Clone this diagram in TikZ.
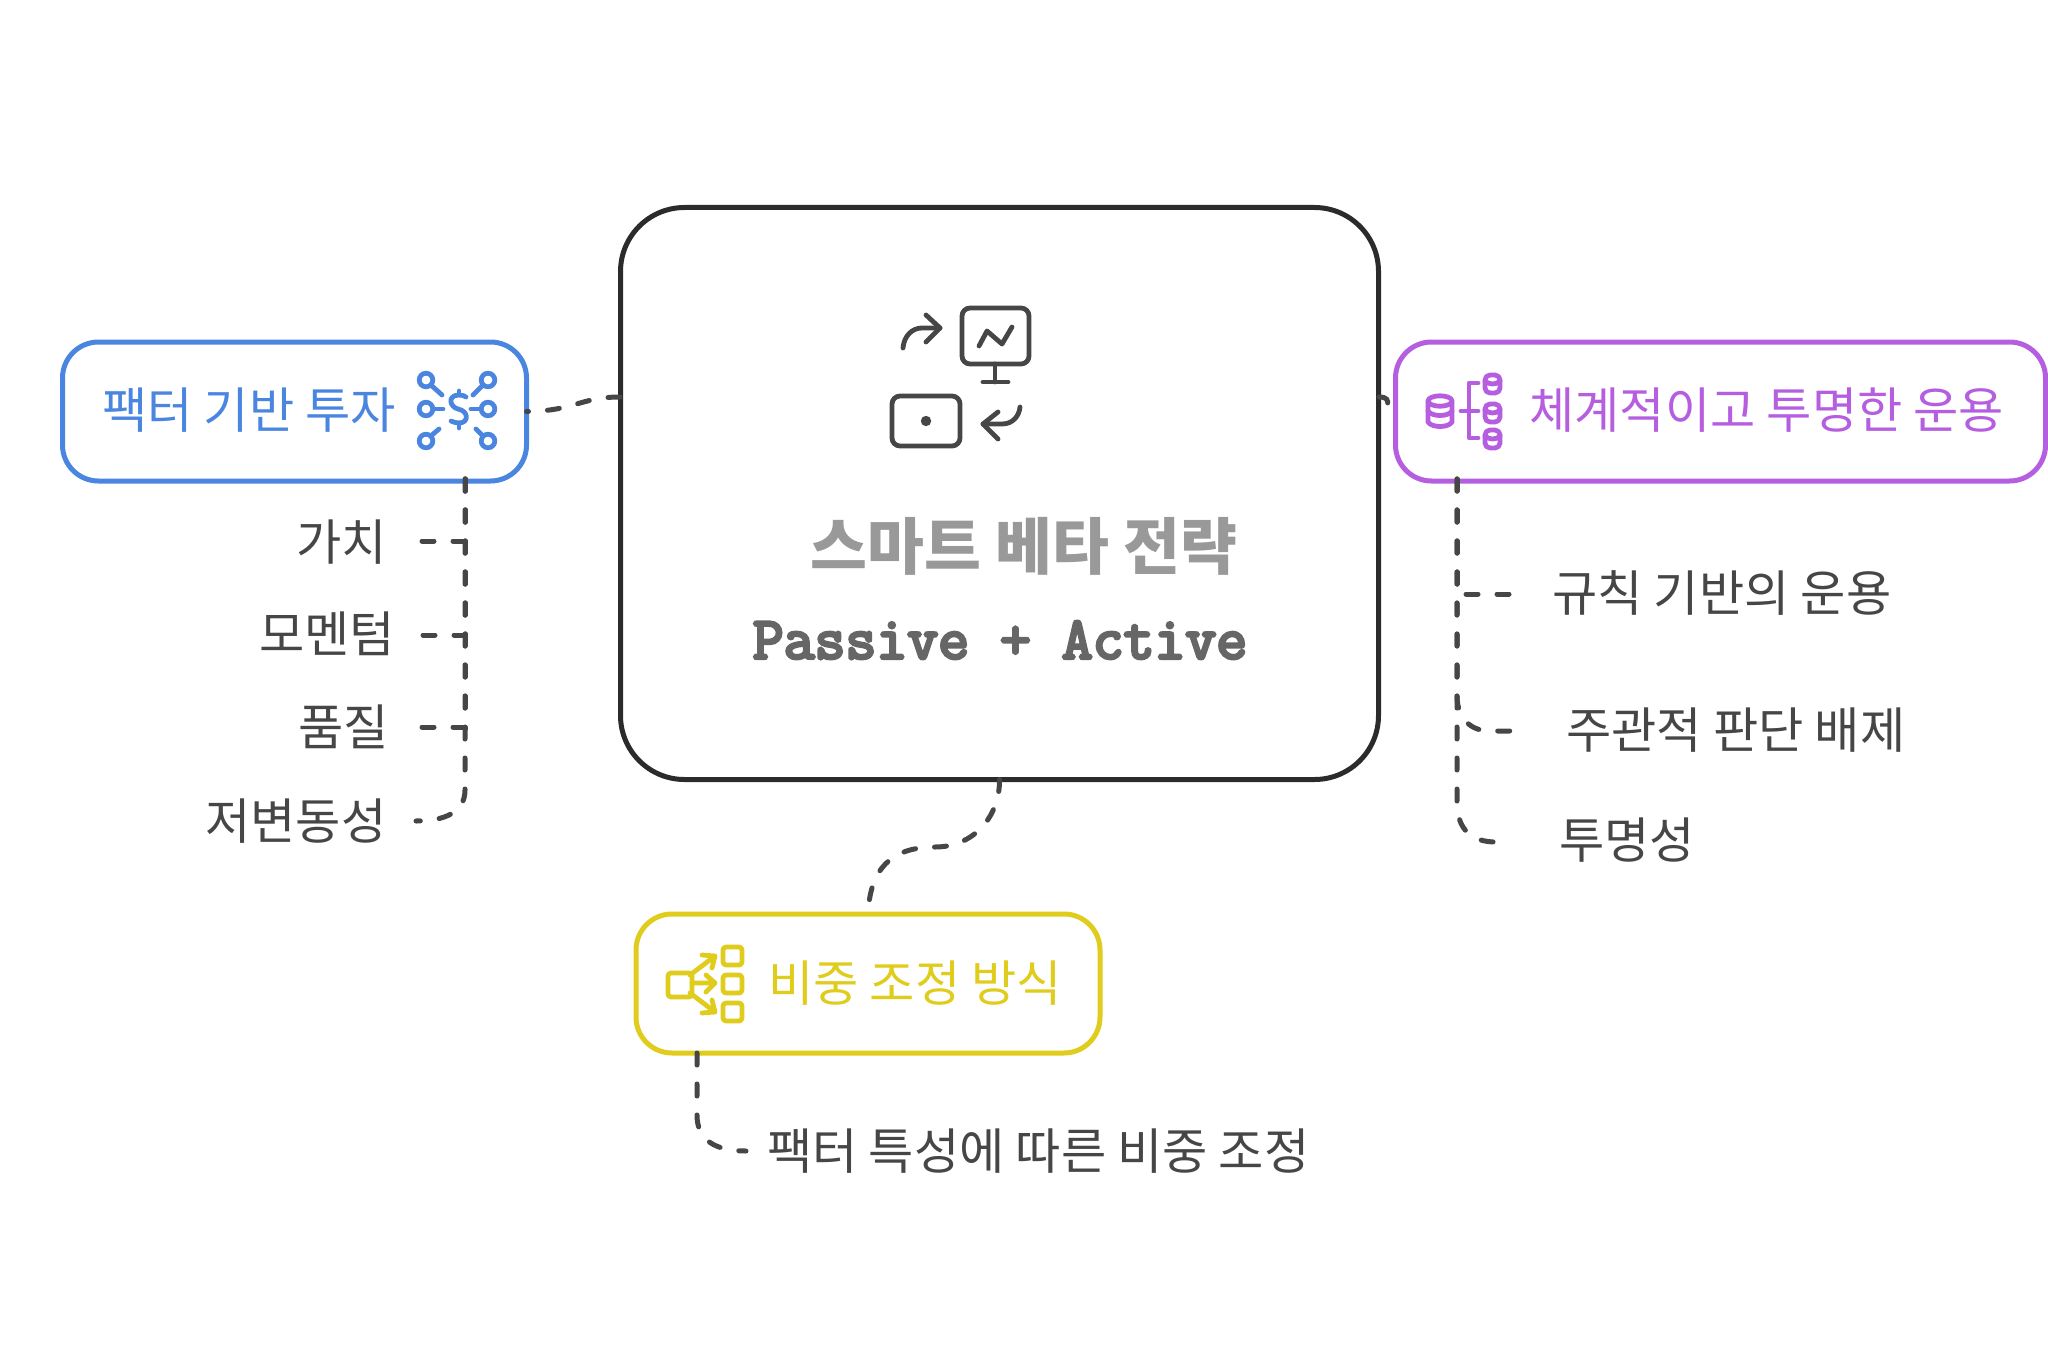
\documentclass[tikz,border=0pt]{standalone}
\usepackage{fontspec}
\usepackage{xcolor}
\setmainfont{Noto Sans CJK KR}
\newfontfamily\slabfont[FakeBold=5]{Latin Modern Mono}
\definecolor{framedark}{RGB}{43,43,43}
\definecolor{linkgray}{RGB}{70,70,70}
\definecolor{factorblue}{RGB}{74,134,224}
\definecolor{rulepurple}{RGB}{181,94,224}
\definecolor{weightyellow}{RGB}{224,204,28}
\definecolor{titlegray}{RGB}{153,153,153}
\definecolor{subgray}{RGB}{102,102,102}
\usetikzlibrary{positioning,calc}
\tikzset{
  branchbox/.style={draw,line width=2.5pt,outer sep=0pt,rounded corners=18pt,minimum width=232pt,minimum height=69.5pt},
  link/.style={draw=linkgray,line width=2.5pt,line cap=round,dash pattern=on 6pt off 9.5pt},
  label/.style={inner sep=0pt,text height=19.6pt,text depth=0pt,font=\fontsize{24.6}{28}\selectfont},
  leaf/.style={label,anchor=west,text=linkgray},
  icon/.style={line width=2.4pt,line cap=round,line join=round},
}
\begin{document}
\begin{tikzpicture}[x=0.5pt,y=-0.5pt]
    \useasboundingbox (0,0) rectangle (2048,1364);

    % Boxes
    \node[draw=framedark,line width=2.5pt,outer sep=0pt,rounded corners=32pt,minimum width=379pt,minimum height=286pt] (main) at (999.5,493.5) {};
    \node[branchbox,draw=factorblue] (factor) at (294.5,411.5) {};
    \node[branchbox,draw=rulepurple,minimum width=325pt] (rule) at (1720.5,411.5) {};
    \node[branchbox,draw=weightyellow] (weight) at (868,983.5) {};

    % Titles
    \node[inner sep=0pt,text=titlegray,font=\fontsize{30.9}{34}\selectfont\bfseries] (title) at (1024,546) {스마트 베타 전략};
    \node[inner sep=0pt,text=subgray,font=\fontsize{30}{32}\slabfont] (subtitle) at (1000,640) {Passive + Active};
    \node[label,anchor=west,text=factorblue] (factorname) at (102,409) {팩터 기반 투자};
    \node[label,anchor=west,text=rulepurple] (rulename) at (1529,409) {체계적이고 투명한 운용};
    \node[label,anchor=west,text=weightyellow] (weightname) at (768,982) {비중 조정 방식};

    % Leaves
    \node[leaf] (value) at (296,541) {가치};
    \node[leaf] (momentum) at (259,633) {모멘텀};
    \node[leaf] (quality) at (298,726) {품질};
    \node[leaf] (lowvol) at (205,820) {저변동성};
    \node[leaf] (rulebased) at (1552,592) {규칙 기반의 운용};
    \node[leaf] (objective) at (1566,729) {주관적 판단 배제};
    \node[leaf] (clear) at (1559,839) {투명성};
    \node[leaf] (weighting) at (767,1150) {팩터 특성에 따른 비중 조정};

    % Free ends
    \coordinate (mainleft) at (620,397);
    \coordinate (mainright) at (1379,397);
    \coordinate (factordrop) at (465,479);
    \coordinate (ruledrop) at (1457,479);
    \coordinate (weightdrop) at (697,1053);
    \coordinate (valueend) at (419,541);
    \coordinate (momentumend) at (419,635);
    \coordinate (qualityend) at (419,727);
    \coordinate (lowvolend) at (416,821);
    \coordinate (rulebasedend) at (1512,594);
    \coordinate (objectiveend) at (1514,731);
    \coordinate (clearend) at (1496,842);
    \coordinate (weightingend) at (746,1151);

    % Connectors
    \draw[link] (mainleft) .. controls (580,397) and (575,411) .. (factor.east);
    \draw[link] (mainright) .. controls (1396,397) and (1380,411) .. (rule.west);
    \draw[link] (main.south) .. controls (1000,815) and (975,847) .. (935,847)
        .. controls (890,847) and (870,870) .. (weight.north);
    \draw[link] (factordrop) |- (valueend);
    \draw[link] (factordrop) |- (momentumend);
    \draw[link] (factordrop) |- (qualityend);
    \draw[link] (factordrop) -- (465,790) .. controls (465,812) and (445,821) .. (lowvolend);
    \draw[link] (ruledrop) |- (rulebasedend);
    \draw[link] (ruledrop) -- (1457,698) .. controls (1458,718) and (1470,731) .. (1490,731) -- (objectiveend);
    \draw[link] (ruledrop) -- (1457,805) .. controls (1458,830) and (1472,842) .. (clearend);
    \draw[link] (weightdrop) -- (697,1115) .. controls (697,1140) and (715,1151) .. (weightingend);

    % Main icon
    \begin{scope}[icon,draw=linkgray]
        \draw[rounded corners=4pt] (962,308) rectangle (1029,364);
        \draw (995,364) -- (995,382) (983,382) -- (1008,382);
        \draw (979,346) -- (987,331) -- (1002,344) -- (1012,327);
        \draw (903,348) .. controls (904,336) and (912,328) .. (922,328) -- (940,328);
        \draw (926,315) -- (940,328) -- (926,342);
        \draw[rounded corners=4pt] (892,396) rectangle (960,446);
        \fill[linkgray] (926,421) circle (2.6pt);
        \draw (1020,407) .. controls (1019,417) and (1012,424) .. (1002,424) -- (983,424);
        \draw (998,412) -- (983,424) -- (998,439);
    \end{scope}

    % Factor icon
    \begin{scope}[icon,draw=factorblue]
        \foreach \cx in {426,488}
            \foreach \cy in {380,409,441}
                \draw (\cx,\cy) circle (3.4pt);
        \draw (432,386) -- (442,395) (482,386) -- (473,395);
        \draw (433,409) -- (443,409) (480,409) -- (471,409);
        \draw (432,435) -- (439,429) (482,435) -- (476,429);
        \draw (466,397) .. controls (463,395) and (460,395) .. (458,395)
            .. controls (447,396) and (450,407) .. (458,409)
            .. controls (469,411) and (469,423) .. (459,423)
            .. controls (456,423) and (453,422) .. (451,421);
        \draw (459,391) -- (459,395) (459,423) -- (459,428);
    \end{scope}

    % Rule icon
    \begin{scope}[icon,draw=rulepurple]
        \draw (1440,401) ellipse (6pt and 2.6pt);
        \draw (1428,401) -- (1428,422) .. controls (1432,428) and (1448,428) .. (1452,422) -- (1452,401);
        \draw (1428,411) .. controls (1432,417) and (1448,417) .. (1452,411);
        \foreach \cy in {384,413,439}
        {
            \draw[rounded corners=2.5pt] (1485,\cy-9) rectangle (1500,\cy+9);
            \draw (1485,\cy-3) .. controls (1489,\cy+1) and (1496,\cy+1) .. (1500,\cy-3);
        }
        \draw (1478,383) -- (1469,383) -- (1469,438) -- (1478,438);
        \draw (1461,411) -- (1478,411);
    \end{scope}

    % Weight icon
    \begin{scope}[icon,draw=weightyellow]
        \draw[rounded corners=1.5pt] (668,973) rectangle (692,997);
        \foreach \cy in {956,984,1012}
            \draw[rounded corners=1.5pt] (723,\cy-9) rectangle (742,\cy+9);
        \draw (690,975) -- (715,956) (702,955) -- (715,956) -- (712,968);
        \draw (692,983) -- (715,983) (706,975) -- (715,983) -- (706,992);
        \draw (690,993) -- (715,1012) (702,1013) -- (715,1012) -- (712,1000);
    \end{scope}
\end{tikzpicture}
\end{document}
